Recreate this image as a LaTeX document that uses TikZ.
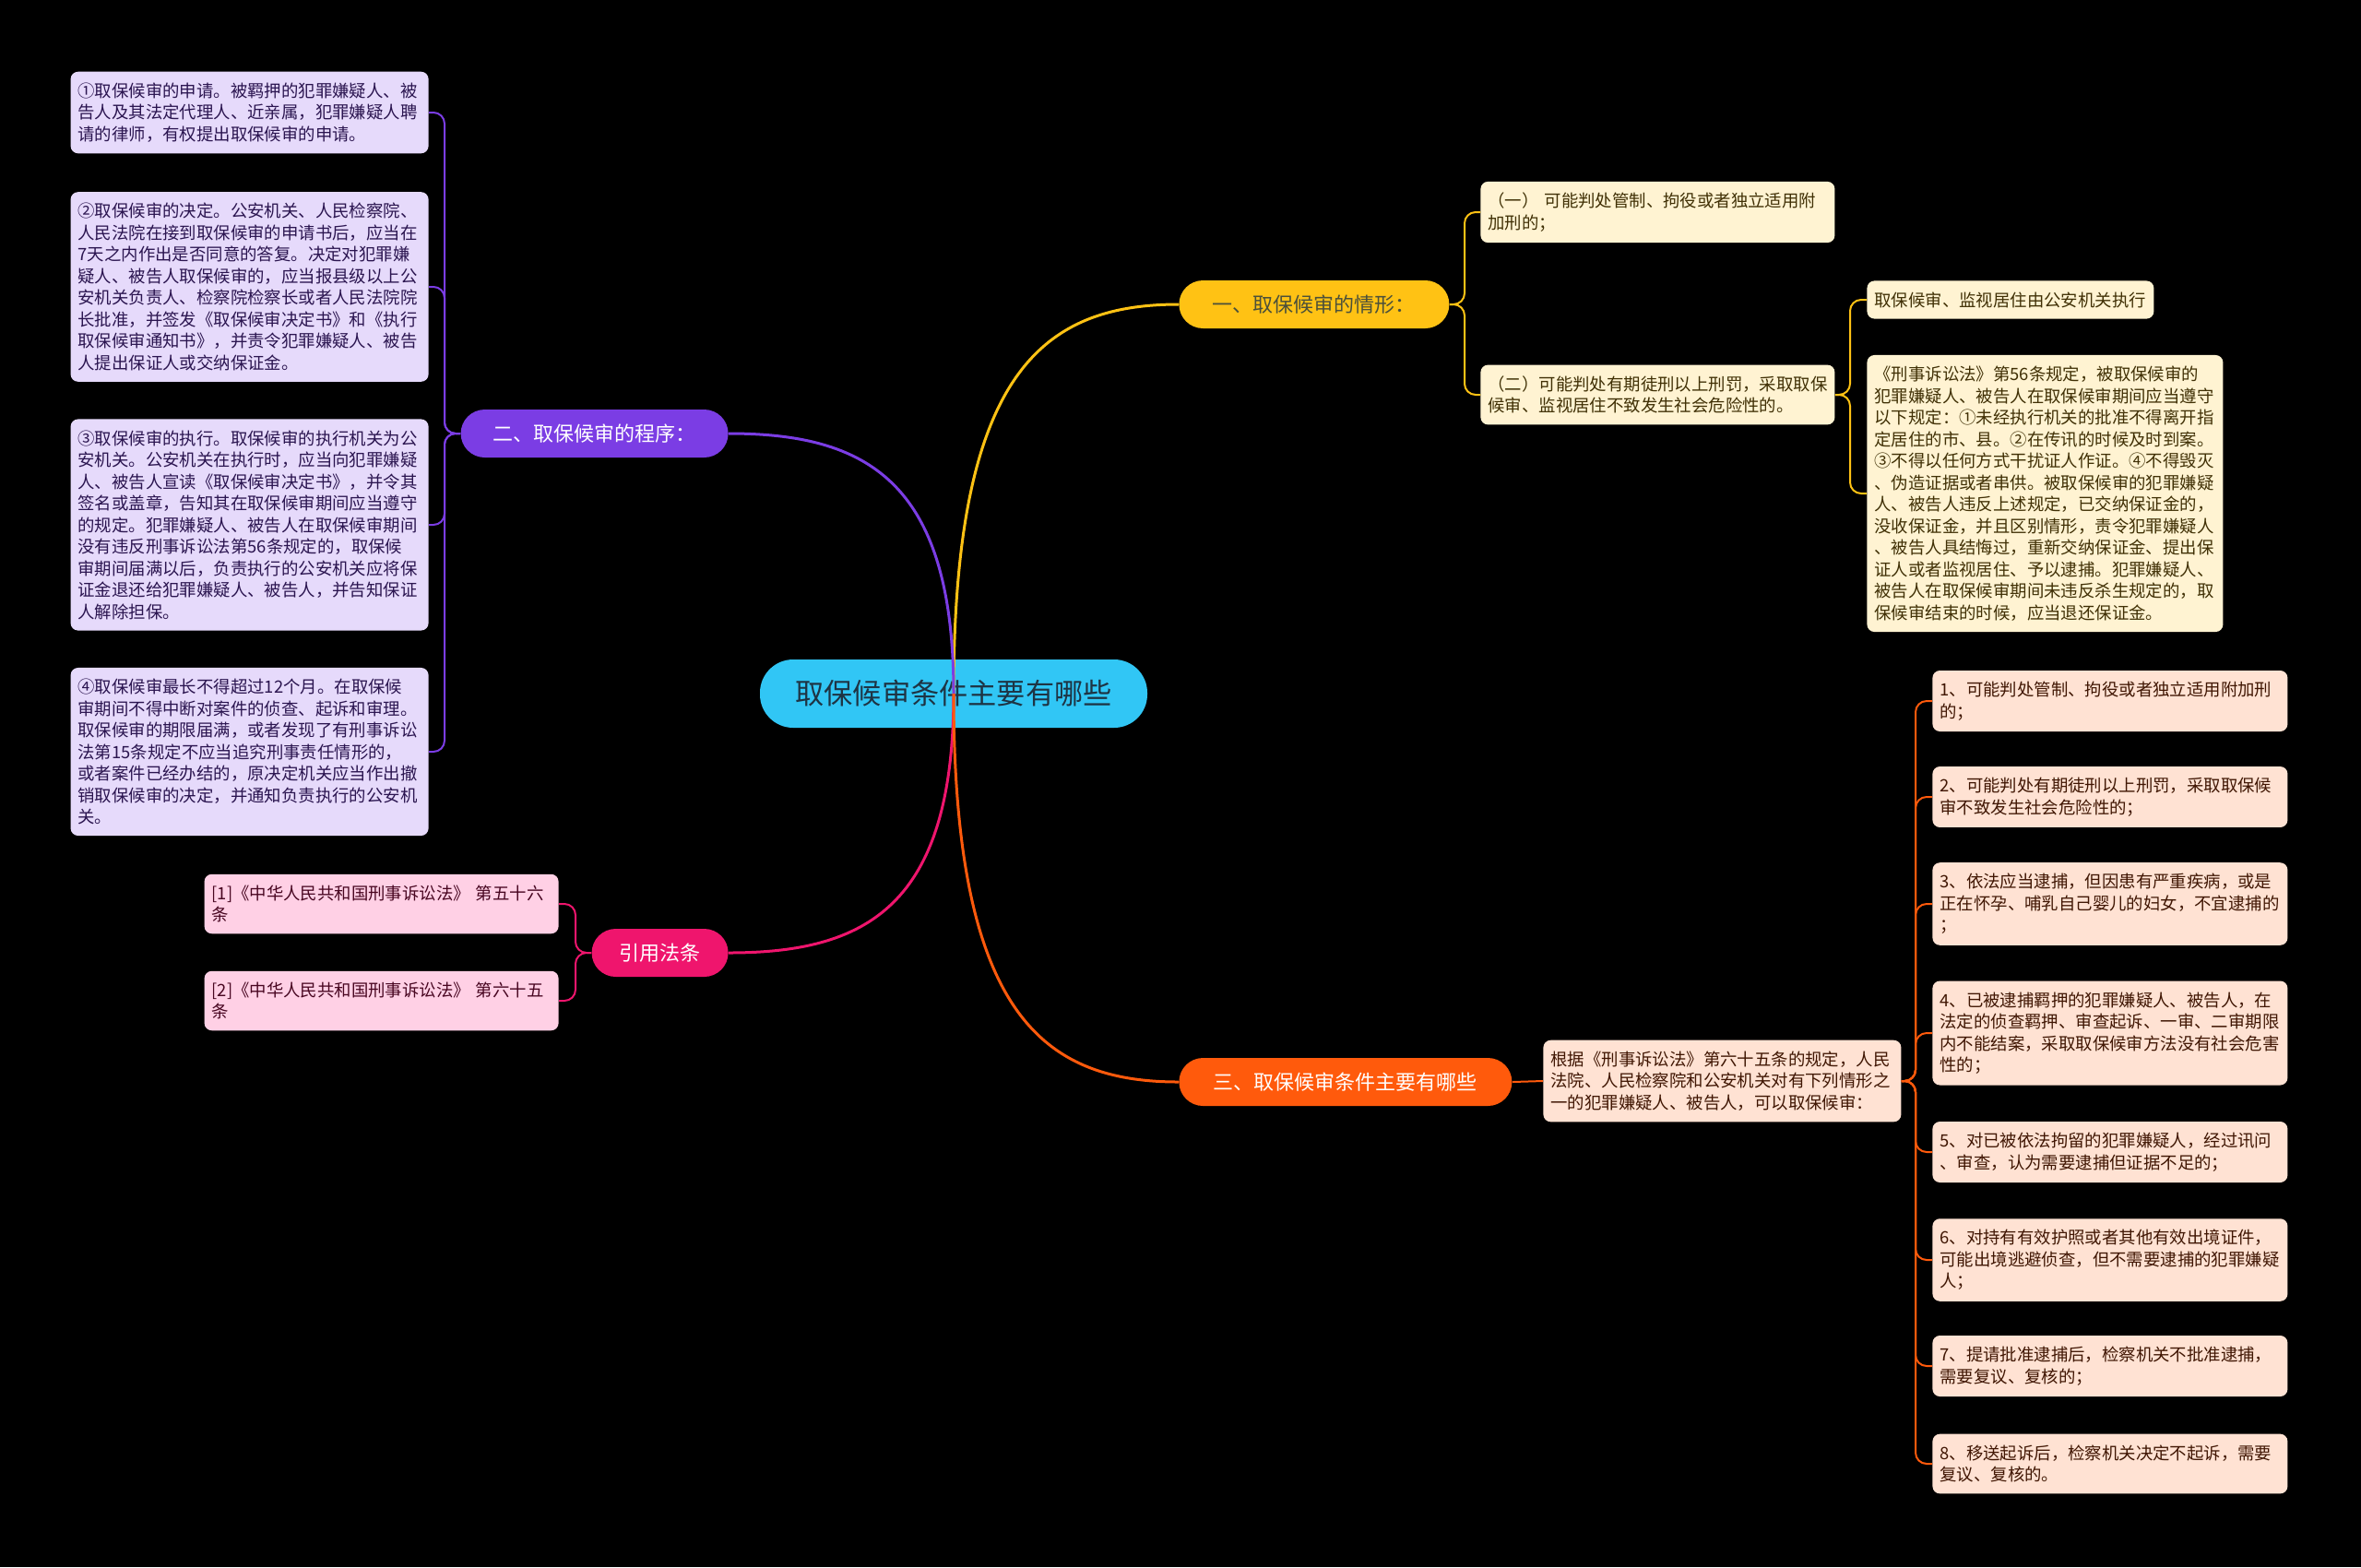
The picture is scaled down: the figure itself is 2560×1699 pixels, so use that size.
\documentclass[tikz,border=0pt]{standalone}
\usepackage{fontspec}
\setmainfont{Noto Sans CJK SC}
\usepackage{tikz}
\usetikzlibrary{calc}
\usepackage{xcolor}

\definecolor{rootcyan}{HTML}{31C6F5}
\definecolor{roottext}{HTML}{1E3444}
\definecolor{yelmain}{HTML}{FFC214}
\definecolor{yelleaf}{HTML}{FFF3D2}
\definecolor{purmain}{HTML}{7B3DE4}
\definecolor{purleaf}{HTML}{E6DAFB}
\definecolor{pinkmain}{HTML}{EF156D}
\definecolor{pinkleaf}{HTML}{FFD0E5}
\definecolor{orgmain}{HTML}{FF5A0C}
\definecolor{orgleaf}{HTML}{FFE2D3}

\begin{document}
\begin{tikzpicture}[
    x=0.5pt, y=-0.5pt,
    rootnode/.style={rectangle, rounded corners=18pt, fill=rootcyan, text=roottext, minimum width=210pt, minimum height=37pt, font=\fontsize{15.6}{18}\selectfont},
    mainnode/.style={rectangle, rounded corners=13pt, minimum height=26pt, font=\fontsize{11}{13}\selectfont},
    leaf/.style={rectangle, rounded corners=4pt, align=left, text width=186pt, inner xsep=4pt, inner ysep=6pt, font=\fontsize{9.2}{11.75}\selectfont},
    bone/.style={line width=1.5pt},
    twig/.style={line width=1pt, rounded corners=6pt}
  ]
    \useasboundingbox (0,0) rectangle (2560,1699);
    \fill[black] (0,0) rectangle (2560,1699);

    % centre and main branches
    \node[rootnode] (root) at (1034,752) {取保候审条件主要有哪些};
    \node[mainnode, fill=yelmain, text=roottext!80!yelmain, minimum width=146.5pt, anchor=west] (qx) at (1278,330) {一、取保候审的情形：};
    \node[mainnode, fill=purmain, text=white, minimum width=145pt, anchor=east] (cx) at (790,470) {二、取保候审的程序：};
    \node[mainnode, fill=pinkmain, text=white, minimum width=74pt, anchor=east] (fatiao) at (790,1033) {引用法条};
    \node[mainnode, fill=orgmain, text=white, minimum width=180.5pt, anchor=west] (tj) at (1278,1173) {三、取保候审条件主要有哪些};

    \draw[bone, yelmain] (root.center) .. controls (1034,406) and (1129,330) .. (qx.west);
    \draw[bone, purmain] (root.center) .. controls (1034,521) and (939,470) .. (cx.east);
    \draw[bone, pinkmain] (root.center) .. controls (1034,983) and (939,1033) .. (fatiao.east);
    \draw[bone, orgmain] (root.center) .. controls (1034,1097) and (1129,1173) .. (tj.west);

    % procedure
    \node[leaf, fill=purleaf, text=purmain!35!black, anchor=east] (cx1) at (465,122) {①取保候审的申请。被羁押的犯罪嫌疑人、被\\告人及其法定代理人、近亲属，犯罪嫌疑人聘\\请的律师，有权提出取保候审的申请。};
    \node[leaf, fill=purleaf, text=purmain!35!black, anchor=east] (cx2) at (465,311) {②取保候审的决定。公安机关、人民检察院、\\人民法院在接到取保候审的申请书后，应当在\\7天之内作出是否同意的答复。决定对犯罪嫌\\疑人、被告人取保候审的，应当报县级以上公\\安机关负责人、检察院检察长或者人民法院院\\长批准，并签发《取保候审决定书》和《执行\\取保候审通知书》，并责令犯罪嫌疑人、被告\\人提出保证人或交纳保证金。};
    \node[leaf, fill=purleaf, text=purmain!35!black, anchor=east] (cx3) at (465,569) {③取保候审的执行。取保候审的执行机关为公\\安机关。公安机关在执行时，应当向犯罪嫌疑\\人、被告人宣读《取保候审决定书》，并令其\\签名或盖章，告知其在取保候审期间应当遵守\\的规定。犯罪嫌疑人、被告人在取保候审期间\\没有违反刑事诉讼法第56条规定的，取保候\\审期间届满以后，负责执行的公安机关应将保\\证金退还给犯罪嫌疑人、被告人，并告知保证\\人解除担保。};
    \node[leaf, fill=purleaf, text=purmain!35!black, anchor=east] (cx4) at (465,815) {④取保候审最长不得超过12个月。在取保候\\审期间不得中断对案件的侦查、起诉和审理。\\取保候审的期限届满，或者发现了有刑事诉讼\\法第15条规定不应当追究刑事责任情形的，\\或者案件已经办结的，原决定机关应当作出撤\\销取保候审的决定，并通知负责执行的公安机\\关。};
    \coordinate (cxs) at (482,470);
    \foreach \n in {cx1,cx2,cx3,cx4}
      \draw[twig, purmain] (cx.west) -- (cxs) |- (\n.east);

    % citations
    \node[leaf, fill=pinkleaf, text=pinkmain!30!black, text width=184pt, anchor=east] (ft1) at (606,980) {[1]《中华人民共和国刑事诉讼法》 第五十六\\条};
    \node[leaf, fill=pinkleaf, text=pinkmain!30!black, text width=184pt, anchor=east] (ft2) at (606,1085) {[2]《中华人民共和国刑事诉讼法》 第六十五\\条};
    \coordinate (fts) at (624,1033);
    \foreach \n in {ft1,ft2}
      \draw[twig, pinkmain] (fatiao.west) -- (fts) |- (\n.east);

    % situations
    \node[leaf, fill=yelleaf, text=yelmain!25!black, text width=184pt, anchor=west] (qx1) at (1605,230) {（一） 可能判处管制、拘役或者独立适用附\\加刑的；};
    \node[leaf, fill=yelleaf, text=yelmain!25!black, text width=184pt, anchor=west] (qx2) at (1605,428) {（二）可能判处有期徒刑以上刑罚，采取取保\\候审、监视居住不致发生社会危险性的。};
    \coordinate (qxs) at (1588,330);
    \foreach \n in {qx1,qx2}
      \draw[twig, yelmain] (qx.east) -- (qxs) |- (\n.west);

    \node[leaf, fill=yelleaf, text=yelmain!25!black, text width=147.5pt, anchor=west] (qx21) at (2024,325) {取保候审、监视居住由公安机关执行};
    \node[leaf, fill=yelleaf, text=yelmain!25!black, text width=185pt, anchor=west] (qx22) at (2024,535) {《刑事诉讼法》第56条规定，被取保候审的\\犯罪嫌疑人、被告人在取保候审期间应当遵守\\以下规定：①未经执行机关的批准不得离开指\\定居住的市、县。②在传讯的时候及时到案。\\③不得以任何方式干扰证人作证。④不得毁灭\\、伪造证据或者串供。被取保候审的犯罪嫌疑\\人、被告人违反上述规定，已交纳保证金的，\\没收保证金，并且区别情形，责令犯罪嫌疑人\\、被告人具结悔过，重新交纳保证金、提出保\\证人或者监视居住、予以逮捕。犯罪嫌疑人、\\被告人在取保候审期间未违反杀生规定的，取\\保候审结束的时候，应当退还保证金。};
    \coordinate (qx2s) at (2006,428);
    \foreach \n in {qx21,qx22}
      \draw[twig, yelmain] (qx2.east) -- (qx2s) |- (\n.west);

    % conditions
    \node[leaf, fill=orgleaf, text=orgmain!25!black, anchor=west] (gj) at (1673,1172) {根据《刑事诉讼法》第六十五条的规定，人民\\法院、人民检察院和公安机关对有下列情形之\\一的犯罪嫌疑人、被告人，可以取保候审：};
    \draw[twig, orgmain] (tj.east) -- (gj.west);

    \node[leaf, fill=orgleaf, text=orgmain!25!black, text width=184.5pt, anchor=west] (tj1) at (2095,760) {1、可能判处管制、拘役或者独立适用附加刑\\的；};
    \node[leaf, fill=orgleaf, text=orgmain!25!black, text width=184.5pt, anchor=west] (tj2) at (2095,864) {2、可能判处有期徒刑以上刑罚，采取取保候\\审不致发生社会危险性的；};
    \node[leaf, fill=orgleaf, text=orgmain!25!black, text width=184.5pt, anchor=west] (tj3) at (2095,980) {3、依法应当逮捕，但因患有严重疾病，或是\\正在怀孕、哺乳自己婴儿的妇女，不宜逮捕的\\；};
    \node[leaf, fill=orgleaf, text=orgmain!25!black, text width=184.5pt, anchor=west] (tj4) at (2095,1120) {4、已被逮捕羁押的犯罪嫌疑人、被告人，在\\法定的侦查羁押、审查起诉、一审、二审期限\\内不能结案，采取取保候审方法没有社会危害\\性的；};
    \node[leaf, fill=orgleaf, text=orgmain!25!black, text width=184.5pt, anchor=west] (tj5) at (2095,1249) {5、对已被依法拘留的犯罪嫌疑人，经过讯问\\、审查，认为需要逮捕但证据不足的；};
    \node[leaf, fill=orgleaf, text=orgmain!25!black, text width=184.5pt, anchor=west] (tj6) at (2095,1366) {6、对持有有效护照或者其他有效出境证件，\\可能出境逃避侦查，但不需要逮捕的犯罪嫌疑\\人；};
    \node[leaf, fill=orgleaf, text=orgmain!25!black, text width=184.5pt, anchor=west] (tj7) at (2095,1481) {7、提请批准逮捕后，检察机关不批准逮捕，\\需要复议、复核的；};
    \node[leaf, fill=orgleaf, text=orgmain!25!black, text width=184.5pt, anchor=west] (tj8) at (2095,1587) {8、移送起诉后，检察机关决定不起诉，需要\\复议、复核的。};
    \coordinate (gjs) at (2077,1172);
    \foreach \n in {tj1,tj2,tj3,tj4,tj5,tj6,tj7,tj8}
      \draw[twig, orgmain] (gj.east) -- (gjs) |- (\n.west);
  \end{tikzpicture}
\end{document}
